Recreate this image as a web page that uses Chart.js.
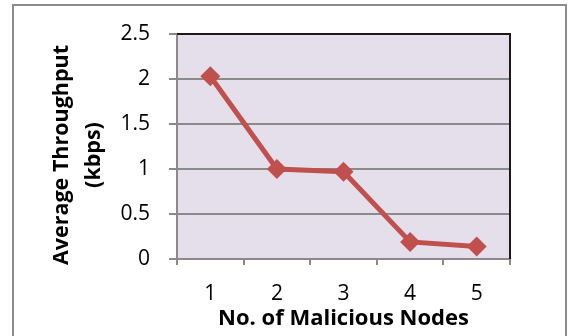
<!DOCTYPE html>
<html>
<head>
<meta charset="utf-8">
<script src="https://cdn.jsdelivr.net/npm/chart.js@4"></script>
<style>
  html, body { margin: 0; padding: 0; background: #fff; }
  #wrap { width: 568px; height: 336px; position: relative; }
</style>
</head>
<body>
<div id="wrap"><canvas id="c" width="568" height="336"></canvas></div>
<script>
// Average throughput versus number of malicious nodes
const categories = ['1', '2', '3', '4', '5'];
const throughput = [2.03, 1.0, 0.97, 0.19, 0.14];
const yTicks = [0, 0.5, 1, 1.5, 2, 2.5];
const yTitle = ['Average Throughput', '(kbps)'];
const xTitle = 'No. of Malicious Nodes';

const FONT = '"Open Sans", Lato, sans-serif';

// Frame around the chart, plot background, and the dark top/right plot edges
const framePlugin = {
  id: 'frame',
  beforeDraw(chart) {
    const { ctx, chartArea: a } = chart;
    ctx.save();
    ctx.fillStyle = '#E5DFEC';
    ctx.fillRect(a.left, a.top, a.right - a.left, a.bottom - a.top);
    ctx.strokeStyle = '#8C8C8C';
    ctx.lineWidth = 2;
    ctx.strokeRect(13, 5, 553, 340);
    ctx.restore();
  },
  afterDatasetsDraw(chart) {
    const { ctx, chartArea: a } = chart;
    ctx.save();
    ctx.strokeStyle = '#1A1A1A';
    ctx.lineWidth = 2;
    ctx.beginPath();
    ctx.moveTo(a.left, a.top);
    ctx.lineTo(a.right, a.top);
    ctx.lineTo(a.right, a.bottom);
    ctx.stroke();
    ctx.restore();
  }
};

// Two-line rotated y-axis title
const yTitlePlugin = {
  id: 'yTitle',
  afterDraw(chart) {
    const { ctx } = chart;
    ctx.save();
    ctx.font = 'bold 21.5px ' + FONT;
    ctx.fillStyle = '#000';
    ctx.textAlign = 'center';
    ctx.textBaseline = 'middle';
    ctx.translate(62, 155);
    ctx.rotate(-Math.PI / 2);
    ctx.fillText(yTitle[0], 0, 0);
    ctx.fillText(yTitle[1], 0, 32);
    ctx.restore();
  }
};

new Chart(document.getElementById('c'), {
  type: 'line',
  data: {
    labels: categories,
    datasets: [{
      data: throughput,
      borderColor: '#C0504D',
      backgroundColor: '#C0504D',
      borderWidth: 5,
      pointStyle: 'rectRot',
      pointRadius: 10,
      pointHoverRadius: 10,
      pointBorderWidth: 0,
      tension: 0
    }]
  },
  options: {
    responsive: false,
    animation: false,
    devicePixelRatio: 1,
    layout: { padding: { top: 34, right: 58, left: 0, bottom: 0 } },
    plugins: { legend: { display: false }, tooltip: { enabled: false } },
    scales: {
      x: {
        offset: true,
        afterFit(scale) { scale.height = 77; },
        grid: {
          offset: true,
          drawOnChartArea: false,
          color: '#8A8A8A',
          lineWidth: 2,
          tickLength: 6
        },
        border: { color: '#8A8A8A', width: 2 },
        ticks: { color: '#000', font: { family: FONT, size: 21 }, padding: 16 },
        title: {
          display: true,
          text: xTitle,
          color: '#000',
          font: { family: FONT, size: 22, weight: 'bold' },
          padding: { top: 0, bottom: 4 }
        }
      },
      y: {
        min: 0,
        max: 2.5,
        afterFit(scale) { scale.width = 177; },
        afterBuildTicks(scale) { scale.ticks = yTicks.map(v => ({ value: v })); },
        grid: { color: '#8A8A8A', lineWidth: 2, tickLength: 8 },
        border: { color: '#8A8A8A', width: 2 },
        ticks: {
          color: '#000',
          font: { family: FONT, size: 21 },
          padding: 19,
          callback: v => String(v)
        }
      }
    }
  },
  plugins: [framePlugin, yTitlePlugin]
});
</script>
</body>
</html>
